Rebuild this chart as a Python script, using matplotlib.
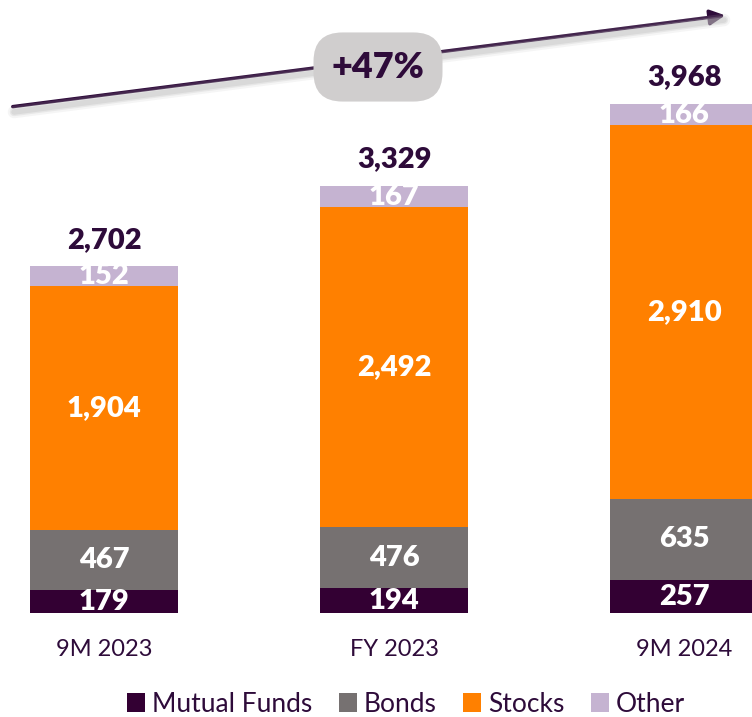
import matplotlib.pyplot as plt

plt.rcParams['font.family'] = ['Lato', 'DejaVu Sans']

periods = ["9M 2023", "FY 2023", "9M 2024"]
mutual_funds = [179, 194, 257]
bonds = [467, 476, 635]
stocks = [1904, 2492, 2910]
other = [152, 167, 166]
totals = [2702, 3329, 3968]
growth_label = "+47%"

series = [("Mutual Funds", mutual_funds, "#330033"),
          ("Bonds", bonds, "#767171"),
          ("Stocks", stocks, "#FF8000"),
          ("Other", other, "#C5B3D1")]

dark = "#2E0B3A"

fig = plt.figure(figsize=(7.52, 7.17), dpi=100)
ax = fig.add_axes([0, 0.145, 1, 0.855])

x = list(range(len(periods)))
bottom = [0] * len(periods)
handles = []
for name, vals, col in series:
    b = ax.bar(x, vals, 0.51, bottom=bottom, color=col, label=name)
    handles.append(b)
    for xi, v, b0 in zip(x, vals, bottom):
        ax.text(xi, b0 + v / 2, f"{v:,}", ha="center", va="center",
                color="white", fontsize=21, fontweight="heavy")
    bottom = [b0 + v for b0, v in zip(bottom, vals)]

for xi, t in zip(x, totals):
    ax.text(xi, t + 205, f"{t:,}", ha="center", va="center",
            color=dark, fontsize=21, fontweight="heavy")

ax.set_xlim(-0.3586, 2.234)
ax.set_ylim(0, 4778)
ax.axis("off")

# category labels
for xi, p in zip(x, periods):
    ax.annotate(p, (xi, 0), xytext=(0, -26), textcoords="offset points",
                ha="center", va="center", color=dark, fontsize=17)

# growth arrow with soft shadow
for w, a in [(9, 0.15), (6, 0.25), (4, 0.35)]:
    fig.add_artist(plt.Line2D([14, 724], [605, 697], transform=None,
                              color="#bfbfbf", lw=w, alpha=a,
                              solid_capstyle="round"))
ax.annotate("", xy=(728, 702), xytext=(10, 610),
            xycoords="figure pixels", textcoords="figure pixels",
            arrowprops=dict(arrowstyle="-|>,head_length=0.9,head_width=0.45",
                            color=dark, lw=2.5))
fig.text(378 / 752, 1 - 67 / 717, growth_label, ha="center", va="center",
         color=dark, fontsize=26, fontweight="heavy",
         bbox=dict(boxstyle="round,pad=0.5,rounding_size=0.8",
                   fc="#D0CECE", ec="none"))

fig.legend(handles=handles, loc="center",
           bbox_to_anchor=(406 / 752, 1 - 704 / 717),
           ncol=4, frameon=False, fontsize=19, handlelength=0.7,
           handleheight=0.7, handletextpad=0.25, columnspacing=1.0,
           labelcolor=dark)

fig.savefig("out.png", dpi=100)
